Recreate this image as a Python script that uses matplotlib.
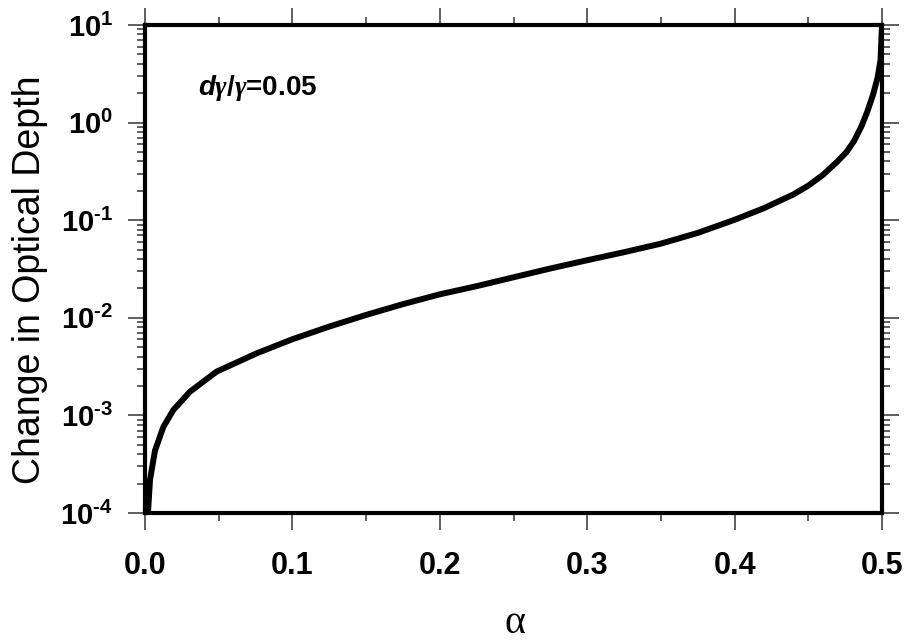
import numpy as np
import matplotlib
matplotlib.use('Agg')
import matplotlib.pyplot as plt
from matplotlib.ticker import LogLocator, MultipleLocator, NullFormatter

plt.rcParams['font.family'] = ['Liberation Sans', 'DejaVu Sans']
plt.rcParams['mathtext.fontset'] = 'custom'
plt.rcParams['mathtext.rm'] = 'Liberation Sans:bold'
plt.rcParams['mathtext.bf'] = 'Liberation Sans:bold'
plt.rcParams['mathtext.it'] = 'Liberation Sans:bold:italic'
plt.rcParams['mathtext.sf'] = 'Liberation Serif:bold:italic'

# curva (alpha, variacao da profundidade optica)
alpha = [0.002, 0.0034, 0.0068, 0.0124, 0.0192, 0.0305, 0.0486, 0.0758, 0.100,
         0.125, 0.150, 0.175, 0.200, 0.225, 0.250, 0.275, 0.300, 0.325,
         0.350, 0.375, 0.400, 0.420, 0.440, 0.450, 0.460, 0.470, 0.476,
         0.481, 0.486, 0.490, 0.494, 0.497, 0.499, 0.4998, 0.500]
delta_tau = [1.0e-4, 2.19e-4, 4.37e-4, 7.59e-4, 1.135e-3, 1.75e-3, 2.81e-3, 4.33e-3, 6.03e-3,
             8.13e-3, 1.07e-2, 1.38e-2, 1.74e-2, 2.11e-2, 2.60e-2, 3.20e-2, 3.89e-2, 4.70e-2,
             5.75e-2, 7.41e-2, 0.101, 0.133, 0.184, 0.226, 0.292, 0.403, 0.501,
             0.646, 0.912, 1.29, 1.95, 2.88, 4.37, 8.5, 10.0]

x_ticks = [0.0, 0.1, 0.2, 0.3, 0.4, 0.5]
x_labels = ['0.0', '0.1', '0.2', '0.3', '0.4', '0.5']
y_exps = [-4, -3, -2, -1, 0, 1]

fig = plt.figure(figsize=(9.05, 6.44), dpi=100)
ax = fig.add_axes([145/905, 1 - 513/644, 737/905, 488/644])

ax.plot(alpha, delta_tau, color='black', lw=4.3, solid_joinstyle='round',
        solid_capstyle='butt')

ax.set_yscale('log')
ax.set_xlim(0, 0.5)
ax.set_ylim(1e-4, 10)

for s in ax.spines.values():
    s.set_linewidth(3.0)
    s.set_zorder(5)

ax.set_xticks(x_ticks)
ax.set_xticklabels(x_labels)
ax.xaxis.set_minor_locator(MultipleLocator(0.05))
ax.set_yticks([10.0**e for e in y_exps])
ax.set_yticklabels([r'$10^{\text{%d}}$' % e for e in y_exps])
ax.yaxis.set_minor_locator(LogLocator(base=10, subs=np.arange(2, 10)))
ax.yaxis.set_minor_formatter(NullFormatter())

ax.tick_params(which='both', direction='out', top=True, right=True, color='#333333')
ax.tick_params(which='major', length=12, width=1.1)
ax.tick_params(which='minor', length=6, width=1.1)
ax.tick_params(axis='x', which='major', labelsize=22, pad=15)
ax.tick_params(axis='y', which='major', labelsize=21, pad=11)
for lab in ax.get_xticklabels():
    lab.set_fontweight('bold')

fig.text(30/905, 1 - 280/644, 'Change in Optical Depth', rotation=90,
         ha='center', va='center', fontsize=27)
# rotulo do eixo x (alpha)
fig.text(515/905, 2/644, 'α', ha='center', va='bottom', fontsize=29,
         family='Liberation Serif')

fig.text(198/905, 1 - 88/644, r'$d\mathsf{\gamma}/\mathsf{\gamma}$=0.05',
         ha='left', va='center', fontsize=20, fontweight='bold')

fig.savefig('out.png', dpi=100)
